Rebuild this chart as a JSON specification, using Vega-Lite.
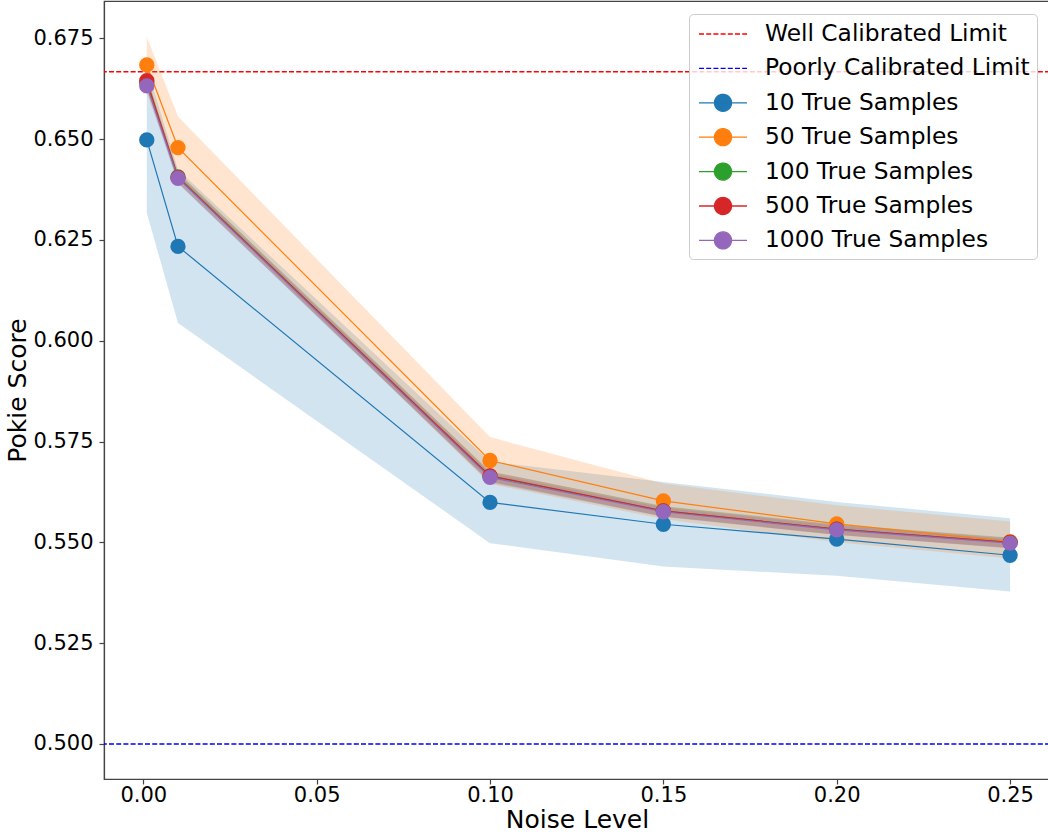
{
  "$schema": "https://vega.github.io/schema/vega-lite/v6.json",
  "autosize": {"type": "none"},
  "padding": {"left": 104, "top": 1, "right": 0, "bottom": 52},
  "width": 946,
  "height": 778,
  "background": "white",
  "config": {
    "font": "DejaVu Sans",
    "view": {"stroke": "#444", "strokeWidth": 1.2},
    "axis": {
      "grid": false,
      "domainColor": "#444",
      "domainWidth": 1.2,
      "tickColor": "#444",
      "tickSize": 5,
      "tickWidth": 1.2,
      "labelFont": "DejaVu Sans",
      "labelFontSize": 21,
      "labelColor": "black",
      "titleFont": "DejaVu Sans",
      "titleFontSize": 25,
      "titleFontWeight": "normal",
      "titleColor": "black"
    }
  },
  "datasets": {
    "series": [
      {"noise": 0.001, "series": "10 True Samples", "score": 0.6498, "lo": 0.6317, "hi": 0.6679},
      {"noise": 0.01, "series": "10 True Samples", "score": 0.6234, "lo": 0.6044, "hi": 0.6424},
      {"noise": 0.1, "series": "10 True Samples", "score": 0.5599, "lo": 0.5498, "hi": 0.5700},
      {"noise": 0.15, "series": "10 True Samples", "score": 0.5545, "lo": 0.5440, "hi": 0.5650},
      {"noise": 0.2, "series": "10 True Samples", "score": 0.5508, "lo": 0.5417, "hi": 0.5600},
      {"noise": 0.25, "series": "10 True Samples", "score": 0.5468, "lo": 0.5378, "hi": 0.5560},
      {"noise": 0.001, "series": "50 True Samples", "score": 0.6684, "lo": 0.6614, "hi": 0.6754},
      {"noise": 0.01, "series": "50 True Samples", "score": 0.6479, "lo": 0.6402, "hi": 0.6556},
      {"noise": 0.1, "series": "50 True Samples", "score": 0.5703, "lo": 0.5645, "hi": 0.5761},
      {"noise": 0.15, "series": "50 True Samples", "score": 0.5603, "lo": 0.5558, "hi": 0.5646},
      {"noise": 0.2, "series": "50 True Samples", "score": 0.5546, "lo": 0.5500, "hi": 0.5592},
      {"noise": 0.25, "series": "50 True Samples", "score": 0.5502, "lo": 0.5460, "hi": 0.5552},
      {"noise": 0.001, "series": "100 True Samples", "score": 0.6640, "lo": 0.6626, "hi": 0.6652},
      {"noise": 0.01, "series": "100 True Samples", "score": 0.6406, "lo": 0.6392, "hi": 0.6418},
      {"noise": 0.1, "series": "100 True Samples", "score": 0.5664, "lo": 0.5650, "hi": 0.5676},
      {"noise": 0.15, "series": "100 True Samples", "score": 0.5578, "lo": 0.5564, "hi": 0.5590},
      {"noise": 0.2, "series": "100 True Samples", "score": 0.5533, "lo": 0.5519, "hi": 0.5545},
      {"noise": 0.25, "series": "100 True Samples", "score": 0.5500, "lo": 0.5486, "hi": 0.5512},
      {"noise": 0.001, "series": "500 True Samples", "score": 0.6645, "lo": 0.6631, "hi": 0.6656},
      {"noise": 0.01, "series": "500 True Samples", "score": 0.6405, "lo": 0.6391, "hi": 0.6416},
      {"noise": 0.1, "series": "500 True Samples", "score": 0.5665, "lo": 0.5651, "hi": 0.5676},
      {"noise": 0.15, "series": "500 True Samples", "score": 0.5578, "lo": 0.5564, "hi": 0.5589},
      {"noise": 0.2, "series": "500 True Samples", "score": 0.5533, "lo": 0.5519, "hi": 0.5544},
      {"noise": 0.25, "series": "500 True Samples", "score": 0.5500, "lo": 0.5486, "hi": 0.5511},
      {"noise": 0.001, "series": "1000 True Samples", "score": 0.6632, "lo": 0.6619, "hi": 0.6642},
      {"noise": 0.01, "series": "1000 True Samples", "score": 0.6403, "lo": 0.6390, "hi": 0.6413},
      {"noise": 0.1, "series": "1000 True Samples", "score": 0.5661, "lo": 0.5648, "hi": 0.5671},
      {"noise": 0.15, "series": "1000 True Samples", "score": 0.5576, "lo": 0.5563, "hi": 0.5586},
      {"noise": 0.2, "series": "1000 True Samples", "score": 0.5531, "lo": 0.5518, "hi": 0.5541},
      {"noise": 0.25, "series": "1000 True Samples", "score": 0.5498, "lo": 0.5485, "hi": 0.5508}
    ],
    "limits": [
      {"series": "Well Calibrated Limit", "score": 0.6667},
      {"series": "Poorly Calibrated Limit", "score": 0.5}
    ]
  },
  "encoding": {
    "color": {
      "field": "series",
      "type": "nominal",
      "scale": {
        "domain": ["Well Calibrated Limit", "Poorly Calibrated Limit", "10 True Samples", "50 True Samples", "100 True Samples", "500 True Samples", "1000 True Samples"],
        "range": ["#ff0000", "#0000ff", "#1f77b4", "#ff7f0e", "#2ca02c", "#d62728", "#9467bd"]
      },
      "legend": {
        "title": null,
        "orient": "none",
        "legendX": 585,
        "legendY": 13,
        "padding": 7,
        "fillColor": "rgba(255,255,255,0.8)",
        "strokeColor": "#cccccc",
        "cornerRadius": 4,
        "labelFont": "DejaVu Sans",
        "labelFontSize": 23.3,
        "labelColor": "black",
        "labelOffset": 29,
        "labelLimit": 400,
        "symbolOffset": 14,
        "symbolSize": 576,
        "rowPadding": 9.4,
        "symbolType": "M-2,0H2M0.71,0A0.71,0.71,0,1,1,-0.71,0A0.71,0.71,0,1,1,0.71,0Z",
        "encode": {
          "symbols": {
            "update": {
              "shape": {"signal": "indexof(['Well Calibrated Limit','Poorly Calibrated Limit'], datum.value) >= 0 ? 'M-2,0H2' : 'M-2,0H2M0.71,0A0.71,0.71,0,1,1,-0.71,0A0.71,0.71,0,1,1,0.71,0Z'"},
              "fill": {"signal": "indexof(['Well Calibrated Limit','Poorly Calibrated Limit'], datum.value) >= 0 ? 'transparent' : scale('color', datum.value)"},
              "stroke": {"signal": "scale('color', datum.value)"},
              "strokeDash": {"signal": "indexof(['Well Calibrated Limit','Poorly Calibrated Limit'], datum.value) >= 0 ? [5,2.2] : [1,0]"},
              "strokeWidth": {"value": 1.3},
              "opacity": {"value": 1},
              "fillOpacity": {"value": 1},
              "strokeOpacity": {"value": 1}
            }
          }
        }
      }
    }
  },
  "layer": [
    {
      "data": {"name": "limits"},
      "mark": {"type": "rule", "strokeWidth": 1.5, "strokeDash": [5, 2.2]},
      "encoding": {
        "y": {"field": "score", "type": "quantitative"}
      }
    },
    {
      "data": {"name": "series"},
      "mark": {"type": "area", "opacity": 0.2},
      "encoding": {
        "x": {"field": "noise", "type": "quantitative"},
        "y": {"field": "lo", "type": "quantitative"},
        "y2": {"field": "hi"}
      }
    },
    {
      "data": {"name": "series"},
      "mark": {"type": "line", "strokeWidth": 1.2},
      "encoding": {
        "x": {"field": "noise", "type": "quantitative"},
        "y": {"field": "score", "type": "quantitative"}
      }
    },
    {
      "data": {"name": "series"},
      "mark": {"type": "point", "shape": "circle", "filled": true, "size": 235, "opacity": 1},
      "encoding": {
        "x": {
          "field": "noise",
          "type": "quantitative",
          "title": "Noise Level",
          "scale": {"domain": [-0.01134, 0.26152], "nice": false, "zero": false},
          "axis": {"values": [0, 0.05, 0.1, 0.15, 0.2, 0.25], "format": ".2f", "labelBaseline": "alphabetic", "labelPadding": 17.4, "titleBaseline": "alphabetic", "titleY": 48}
        },
        "y": {
          "field": "score",
          "type": "quantitative",
          "title": "Pokie Score",
          "scale": {"domain": [0.49132, 0.68425], "nice": false, "zero": false},
          "axis": {"values": [0.5, 0.525, 0.55, 0.575, 0.6, 0.625, 0.65, 0.675], "format": ".3f", "labelPadding": 6, "titleBaseline": "alphabetic", "titleX": -79}
        }
      }
    }
  ]
}
